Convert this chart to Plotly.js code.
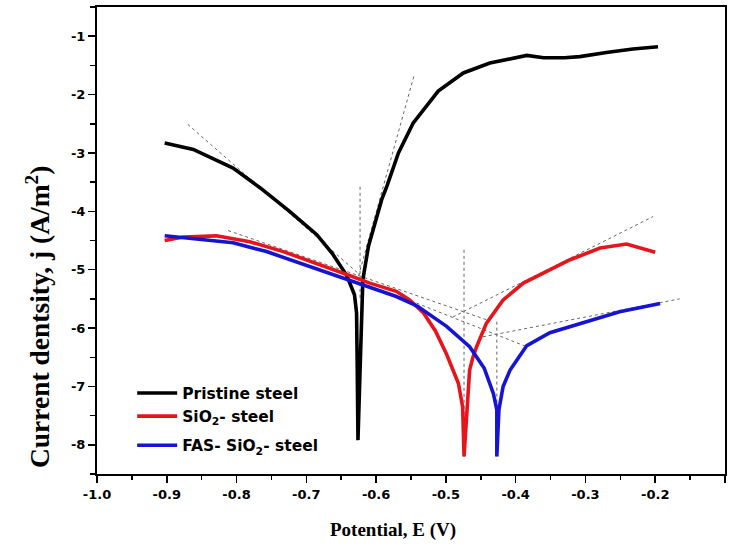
<!DOCTYPE html>
<html>
<head>
<meta charset="utf-8">
<script src="https://cdn.plot.ly/plotly-3.0.1.min.js"></script>
<style>html,body{margin:0;padding:0;background:#fff;}#chart{width:734px;height:546px;}</style>
</head>
<body>
<div id="chart"></div>
<script>
// Potentiodynamic polarization curves
const seriesNames = ["Pristine steel", "SiO<sub>2</sub>- steel", "FAS- SiO<sub>2</sub>- steel"];

const pristineE = [-0.903, -0.862, -0.805, -0.766, -0.724, -0.685, -0.663, -0.642, -0.631, -0.628, -0.627, -0.626, -0.623, -0.621, -0.619, -0.611, -0.602, -0.592, -0.584, -0.568, -0.547, -0.511, -0.475, -0.437, -0.384, -0.36, -0.33, -0.308, -0.27, -0.232, -0.196];
const pristineJ = [-2.83, -2.94, -3.26, -3.60, -4.00, -4.40, -4.72, -5.10, -5.43, -5.74, -6.72, -7.92, -6.72, -5.74, -5.17, -4.60, -4.20, -3.80, -3.55, -3.00, -2.49, -1.94, -1.63, -1.46, -1.33, -1.37, -1.37, -1.35, -1.28, -1.22, -1.18];

const sio2E = [-0.903, -0.876, -0.829, -0.781, -0.733, -0.685, -0.638, -0.609, -0.571, -0.552, -0.532, -0.515, -0.499, -0.482, -0.476, -0.474, -0.470, -0.468, -0.466, -0.461, -0.456, -0.442, -0.418, -0.389, -0.356, -0.322, -0.279, -0.241, -0.200];
const sio2J = [-4.50, -4.44, -4.42, -4.52, -4.69, -4.89, -5.10, -5.23, -5.37, -5.52, -5.74, -6.05, -6.45, -6.95, -7.35, -8.20, -7.35, -6.95, -6.72, -6.49, -6.32, -5.92, -5.52, -5.23, -5.03, -4.83, -4.63, -4.56, -4.70];

const fasE = [-0.903, -0.853, -0.805, -0.757, -0.709, -0.661, -0.618, -0.571, -0.540, -0.499, -0.466, -0.445, -0.432, -0.427, -0.427, -0.424, -0.418, -0.408, -0.395, -0.384, -0.351, -0.298, -0.251, -0.193];
const fasJ = [-4.42, -4.48, -4.54, -4.69, -4.89, -5.09, -5.26, -5.46, -5.63, -5.97, -6.32, -6.69, -7.12, -7.40, -8.20, -7.40, -7.00, -6.72, -6.49, -6.30, -6.08, -5.89, -5.72, -5.58];

// Tafel extrapolation guide lines
const tafelPristineCathE = [-0.870, -0.623], tafelPristineCathJ = [-2.51, -5.09];
const tafelPristineAnodE = [-0.546, -0.626], tafelPristineAnodJ = [-1.69, -5.14];
const tafelPristineVertE = [-0.623, -0.623], tafelPristineVertJ = [-3.58, -5.50];
const tafelSio2CathE = [-0.812, -0.441], tafelSio2CathJ = [-4.33, -5.86];
const tafelSio2AnodE = [-0.490, -0.203], tafelSio2AnodJ = [-5.81, -4.09];
const tafelSio2VertE = [-0.474, -0.474], tafelSio2VertJ = [-4.66, -8.26];
const tafelFasCathE = [-0.566, -0.384], tafelFasCathJ = [-5.46, -6.32];
const tafelFasAnodE = [-0.447, -0.165], tafelFasAnodJ = [-6.15, -5.50];
const tafelFasVertE = [-0.427, -0.427], tafelFasVertJ = [-5.89, -8.26];

const xTickVals = [-1.0, -0.9, -0.8, -0.7, -0.6, -0.5, -0.4, -0.3, -0.2, -0.1];
const xTickText = ["-1.0", "-0.9", "-0.8", "-0.7", "-0.6", "-0.5", "-0.4", "-0.3", "-0.2", "-0.1"];
const yTickVals = [-1, -2, -3, -4, -5, -6, -7, -8];
const yTickText = ["-1", "-2", "-3", "-4", "-5", "-6", "-7", "-8"];

const guide = (x, y) => ({x: x, y: y, mode: 'lines', showlegend: false, hoverinfo: 'skip',
  line: {color: '#666', width: 1, dash: 'dot'}});

const traces = [
  guide(tafelPristineCathE, tafelPristineCathJ),
  guide(tafelPristineAnodE, tafelPristineAnodJ),
  guide(tafelPristineVertE, tafelPristineVertJ),
  guide(tafelSio2CathE, tafelSio2CathJ),
  guide(tafelSio2AnodE, tafelSio2AnodJ),
  guide(tafelSio2VertE, tafelSio2VertJ),
  guide(tafelFasCathE, tafelFasCathJ),
  guide(tafelFasAnodE, tafelFasAnodJ),
  guide(tafelFasVertE, tafelFasVertJ),
  {x: pristineE, y: pristineJ, name: seriesNames[0], legendgroup: 'g1', mode: 'lines', line: {color: '#000000', width: 3.6}},
  {x: sio2E, y: sio2J, name: seriesNames[1], legendgroup: 'g1', mode: 'lines', line: {color: '#e8141c', width: 3.6}},
  {x: fasE, y: fasJ, name: seriesNames[2], legendgroup: 'g2', mode: 'lines', line: {color: '#1414d2', width: 3.6}}
];

const tickFont = {family: 'DejaVu Sans', size: 13, color: '#000', weight: 'bold'};

const layout = {
  width: 734, height: 546,
  margin: {l: 97, r: 9, t: 7, b: 72},
  paper_bgcolor: '#fff', plot_bgcolor: '#fff',
  showlegend: true,
  legend: {x: 0.056, y: 0.209, xanchor: 'left', yanchor: 'top', bgcolor: 'rgba(0,0,0,0)',
    traceorder: 'grouped', groupclick: 'toggleitem',
    font: {family: 'DejaVu Sans', size: 15.5, color: '#000', weight: 'bold'}, itemwidth: 40, tracegroupgap: 6},
  xaxis: {range: [-1.0, -0.1], tickvals: xTickVals, ticktext: xTickText, ticks: 'outside', ticklen: 7, tickwidth: 1.5,
    tickcolor: '#000', showline: true, linecolor: '#000', linewidth: 2, mirror: true, showgrid: false, zeroline: false,
    tickfont: tickFont,
    minor: {dtick: 0.05, ticks: 'outside', ticklen: 4, tickwidth: 1.5, tickcolor: '#000', showgrid: false}},
  yaxis: {range: [-8.5, -0.5], tickvals: yTickVals, ticktext: yTickText, ticks: 'outside', ticklen: 7, tickwidth: 1.5,
    tickcolor: '#000', showline: true, linecolor: '#000', linewidth: 2, mirror: true, showgrid: false, zeroline: false,
    tickfont: tickFont,
    minor: {dtick: 0.5, ticks: 'outside', ticklen: 5, tickwidth: 1.5, tickcolor: '#000', showgrid: false}},
  annotations: [
    {text: 'Potential, E (V)', xref: 'paper', yref: 'paper', x: 0.471, y: -0.12, xanchor: 'center', yanchor: 'middle',
      showarrow: false, font: {family: 'Liberation Serif', size: 19, color: '#000', weight: 'bold'}},
    {text: 'Current dentsity, j (A/m<sup>2</sup>)', xref: 'paper', yref: 'paper', x: -0.094, y: 0.336, xanchor: 'center', yanchor: 'middle',
      textangle: -90, showarrow: false, font: {family: 'Liberation Serif', size: 27.5, color: '#000', weight: 'bold'}}
  ]
};

Plotly.newPlot('chart', traces, layout, {displayModeBar: false, staticPlot: true});
</script>
</body>
</html>
